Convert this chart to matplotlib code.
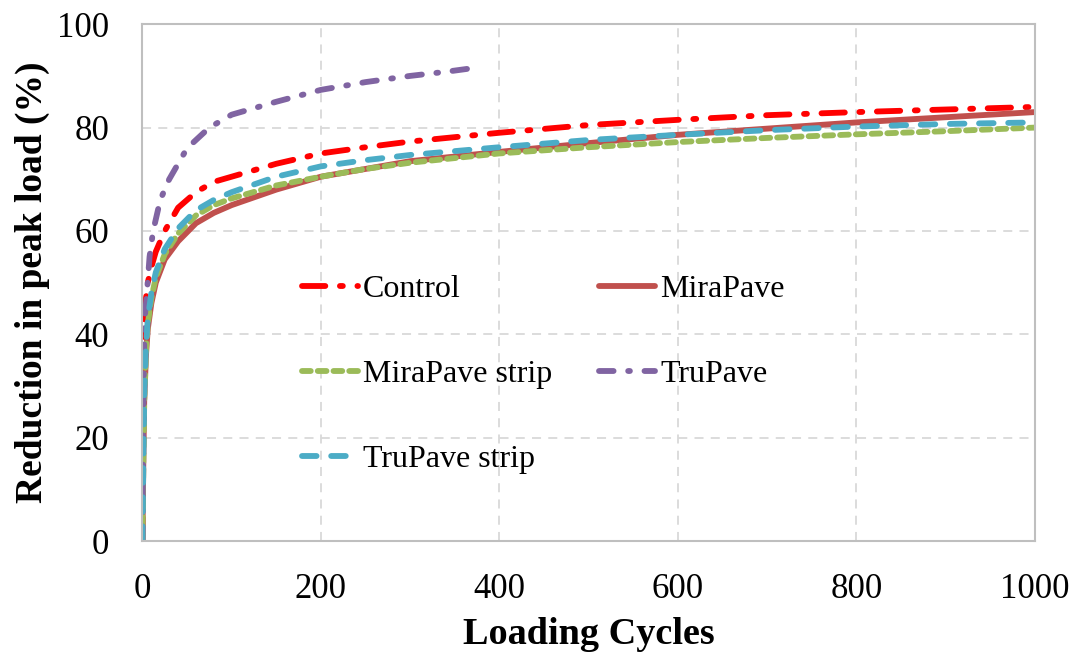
import numpy as np
import matplotlib
matplotlib.use("Agg")
import matplotlib.pyplot as plt

plt.rcParams['font.family'] = ['Liberation Serif', 'DejaVu Serif']

# loading cycles and reduction in peak load (%)
control_x = [0, 1, 2, 4, 6, 10, 15, 25, 40, 60, 80, 100, 150, 200, 250, 300, 400, 500, 600, 700, 800, 900, 1000]
control_y = [0, 30, 41, 47, 50, 53, 56, 60, 64.5, 67.5, 69.5, 70.5, 73, 75, 76.2, 77.3, 79, 80.5, 81.5, 82.4, 83, 83.5, 84]

mira_x = [0, 1, 2, 4, 6, 10, 15, 25, 40, 60, 80, 100, 150, 200, 250, 300, 400, 500, 600, 700, 800, 900, 1000]
mira_y = [0, 15, 27, 36, 41, 46, 50, 54.5, 58, 61.5, 63.5, 65, 68, 70.5, 72, 73.5, 75.3, 77, 78.6, 79.8, 81, 82, 83]

mira_strip_x = [0, 1, 2, 4, 6, 10, 15, 25, 40, 60, 80, 100, 150, 200, 250, 300, 400, 500, 600, 700, 800, 900, 1000]
mira_strip_y = [0, 15, 27, 37, 42, 47, 51, 55.5, 59.5, 63, 65, 66.3, 68.8, 70.5, 72, 73.2, 75, 76.2, 77.2, 78, 78.7, 79.3, 80]

tru_x = [0, 1, 2, 3, 5, 8, 12, 20, 30, 50, 75, 100, 150, 200, 250, 300, 340, 370]
tru_y = [0, 25, 38, 44, 48, 55, 60, 66, 70, 76, 80, 82.5, 85, 87.3, 88.8, 90, 90.8, 91.5]

tru_strip_x = [0, 1, 2, 4, 6, 10, 15, 25, 40, 60, 80, 100, 150, 200, 250, 300, 400, 500, 600, 700, 800, 900, 1000]
tru_strip_y = [0, 15, 28, 38, 43, 48, 52, 56.5, 60.5, 64, 66, 67.5, 70.5, 72.5, 73.7, 74.7, 76.2, 77.6, 78.6, 79.5, 80.2, 80.7, 81]

fig, ax = plt.subplots(figsize=(10.79, 6.55), dpi=100)
fig.subplots_adjust(left=0.132, right=0.959, top=0.963, bottom=0.174)

lw = 4.2
h_ctrl, = ax.plot(control_x, control_y, color='#FF0000', lw=lw, dashes=(4, 2.5, 0.5, 2.5), dash_capstyle='round', label='Control')
h_mira, = ax.plot(mira_x, mira_y, color='#C0504D', lw=lw, solid_capstyle='round', label='MiraPave')
h_ms, = ax.plot(mira_strip_x, mira_strip_y, color='#9BBB59', lw=lw, dashes=(1.5, 1.2), dash_capstyle='round', label='MiraPave strip')
h_tru, = ax.plot(tru_x, tru_y, color='#8064A2', lw=lw, dashes=(2.5, 2.5, 0.3, 2.5), dash_capstyle='round', label='TruPave')
h_ts, = ax.plot(tru_strip_x, tru_strip_y, color='#4BACC6', lw=lw, dashes=(2.5, 2.5), dash_capstyle='round', label='TruPave strip')

ax.set_xlim(0, 1000)
ax.set_ylim(0, 100)
ax.set_xticks(np.arange(0, 1001, 200))
ax.set_yticks(np.arange(0, 101, 20))
ax.tick_params(axis='x', length=0, labelsize=25, pad=23)
ax.tick_params(axis='y', length=0, labelsize=25, pad=24)
ax.grid(True, color='#D9D9D9', linestyle=(0, (5, 4)), lw=1.3)
for s in ax.spines.values():
    s.set_color('#BFBFBF')
    s.set_linewidth(1.5)

ax.set_xlabel('Loading Cycles', fontsize=27.5, fontweight='bold', labelpad=8)
ax.set_ylabel('Reduction in peak load (%)', fontsize=27, fontweight='bold', labelpad=5)

# row-major order like the original legend
handles = [h_ctrl, h_ms, h_ts, h_mira, h_tru]
ax.legend(handles=handles, labels=[h.get_label() for h in handles],
          loc='upper left', bbox_to_anchor=(0.179, 0.515), ncol=2, frameon=False,
          fontsize=23, handlelength=1.75, handletextpad=0.16, columnspacing=1.47,
          labelspacing=1.74, borderaxespad=0, borderpad=0)

fig.savefig('out.png', dpi=100)
